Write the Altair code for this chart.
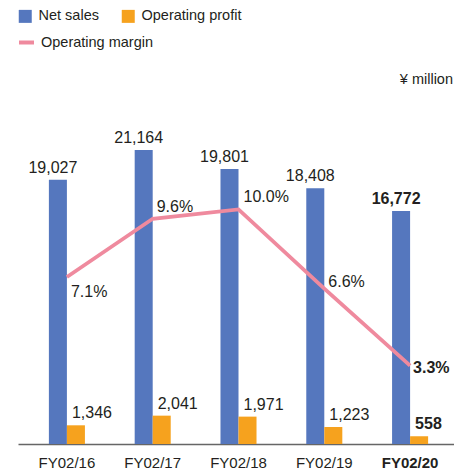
import altair as alt
import pandas as pd

# ---- data ----
years = ["FY02/16", "FY02/17", "FY02/18", "FY02/19", "FY02/20"]
net_sales = [19027, 21164, 19801, 18408, 16772]
op_profit = [1346, 2041, 1971, 1223, 558]
op_margin = [7.1, 9.6, 10.0, 6.6, 3.3]

BLUE = "#5577BE"
ORANGE = "#F6A21E"
PINK = "#EF8A9E"
TEXT = "#231F20"
FONT = "Liberation Sans"
LAST = years[-1]

bars_df = pd.DataFrame(
    {
        "year": years * 2,
        "series": ["Net sales"] * len(years) + ["Operating profit"] * len(years),
        "value": net_sales + op_profit,
    }
)
line_df = pd.DataFrame(
    {
        "year": years,
        "metric": ["Operating margin"] * len(years),
        "margin": op_margin,
        "label": [f"{m:.1f}%" for m in op_margin],
        "sales": net_sales,
        "sales_label": [f"{v:,}" for v in net_sales],
        "profit": op_profit,
        "profit_label": [f"{v:,}" for v in op_profit],
    }
)

x_enc = alt.X(
    "year:N",
    sort=years,
    scale=alt.Scale(paddingInner=0.58, paddingOuter=0.36, range=[0, 441]),
    axis=alt.Axis(
        title=None,
        domainColor="#666666",
        domainWidth=1.5,
        ticks=False,
        tickSize=0,
        labelPadding=23,
        labelBaseline="alphabetic",
        labelFont=FONT,
        labelFontSize=15,
        labelColor=TEXT,
        labelAngle=0,
        labelFontWeight=alt.ExprRef(expr=f"datum.value == '{LAST}' ? 'bold' : 'normal'"),
    ),
)
y_sales = alt.Scale(domain=[0, 25200])
y_margin = alt.Scale(domain=[-0.06, 14.95])

bars = (
    alt.Chart(bars_df)
    .mark_bar()
    .encode(
        x=x_enc,
        xOffset=alt.XOffset("series:N", sort=["Net sales", "Operating profit"]),
        y=alt.Y("value:Q", scale=y_sales, axis=None),
        color=alt.Color(
            "series:N",
            scale=alt.Scale(domain=["Net sales", "Operating profit"], range=[BLUE, ORANGE]),
            legend=alt.Legend(
                title=None,
                orient="none",
                legendX=0,
                legendY=-85,
                direction="horizontal",
                symbolType="square",
                symbolSize=169,
                symbolStrokeWidth=0,
                labelFont=FONT,
                labelFontSize=14.5,
                labelColor=TEXT,
                labelOffset=6,
                columnPadding=22,
            ),
        ),
    )
)

base = alt.Chart(line_df).encode(x=alt.X("year:N", sort=years))

line = base.mark_line(strokeWidth=3.8).encode(
    y=alt.Y("margin:Q", scale=y_margin, axis=None),
    stroke=alt.Stroke(
        "metric:N",
        scale=alt.Scale(domain=["Operating margin"], range=[PINK]),
        legend=alt.Legend(
            title=None,
            orient="none",
            legendX=-1,
            legendY=-61,
            symbolType="stroke",
            symbolSize=225,
            symbolStrokeWidth=4,
            labelFont=FONT,
            labelFontSize=14.5,
            labelColor=TEXT,
            labelOffset=5,
        ),
    ),
)

def txt(**kw):
    return dict(font=FONT, fontSize=16, color=TEXT, baseline="alphabetic", **kw)

layers = [bars, line]

for bold, flt in [(False, f"datum.year != '{LAST}'"), (True, f"datum.year == '{LAST}'")]:
    w = "bold" if bold else "normal"
    layers.append(
        base.transform_filter(flt)
        .mark_text(**txt(align="center", dx=-14, dy=-7, fontWeight=w))
        .encode(y=alt.Y("sales:Q", scale=y_sales, axis=None), text="sales_label:N")
    )
    layers.append(
        base.transform_filter(flt)
        .mark_text(**txt(align="left", dx=5, dy=-7, fontWeight=w))
        .encode(y=alt.Y("profit:Q", scale=y_sales, axis=None), text="profit_label:N")
    )

# per-label offsets for the margin labels (styling)
margin_offsets = [(4, 20), (4, -6.5), (5, -7), (4, -1.5), (3, 7.5)]
for yr, (dx, dy) in zip(years, margin_offsets):
    layers.append(
        base.transform_filter(f"datum.year == '{yr}'")
        .mark_text(**txt(align="left", dx=dx, dy=dy, fontWeight="bold" if yr == LAST else "normal"))
        .encode(y=alt.Y("margin:Q", scale=y_margin, axis=None), text="label:N")
    )

unit = (
    alt.Chart(pd.DataFrame({"t": ["¥ million"]}))
    .mark_text(font=FONT, fontSize=14.5, color=TEXT, align="right", baseline="alphabetic")
    .encode(x=alt.value(435), y=alt.value(-10), text="t:N")
)
layers.append(unit)

chart = (
    alt.layer(*layers)
    .resolve_scale(y="independent")
    .properties(
        width=436,
        height=350,
        autosize=alt.AutoSizeParams(type="none"),
        padding={"left": 10, "top": 86, "right": 0, "bottom": 26},
    )
    .configure_view(stroke=None)
)

chart.save("out.html", embed_options={"renderer": "svg", "actions": False})
